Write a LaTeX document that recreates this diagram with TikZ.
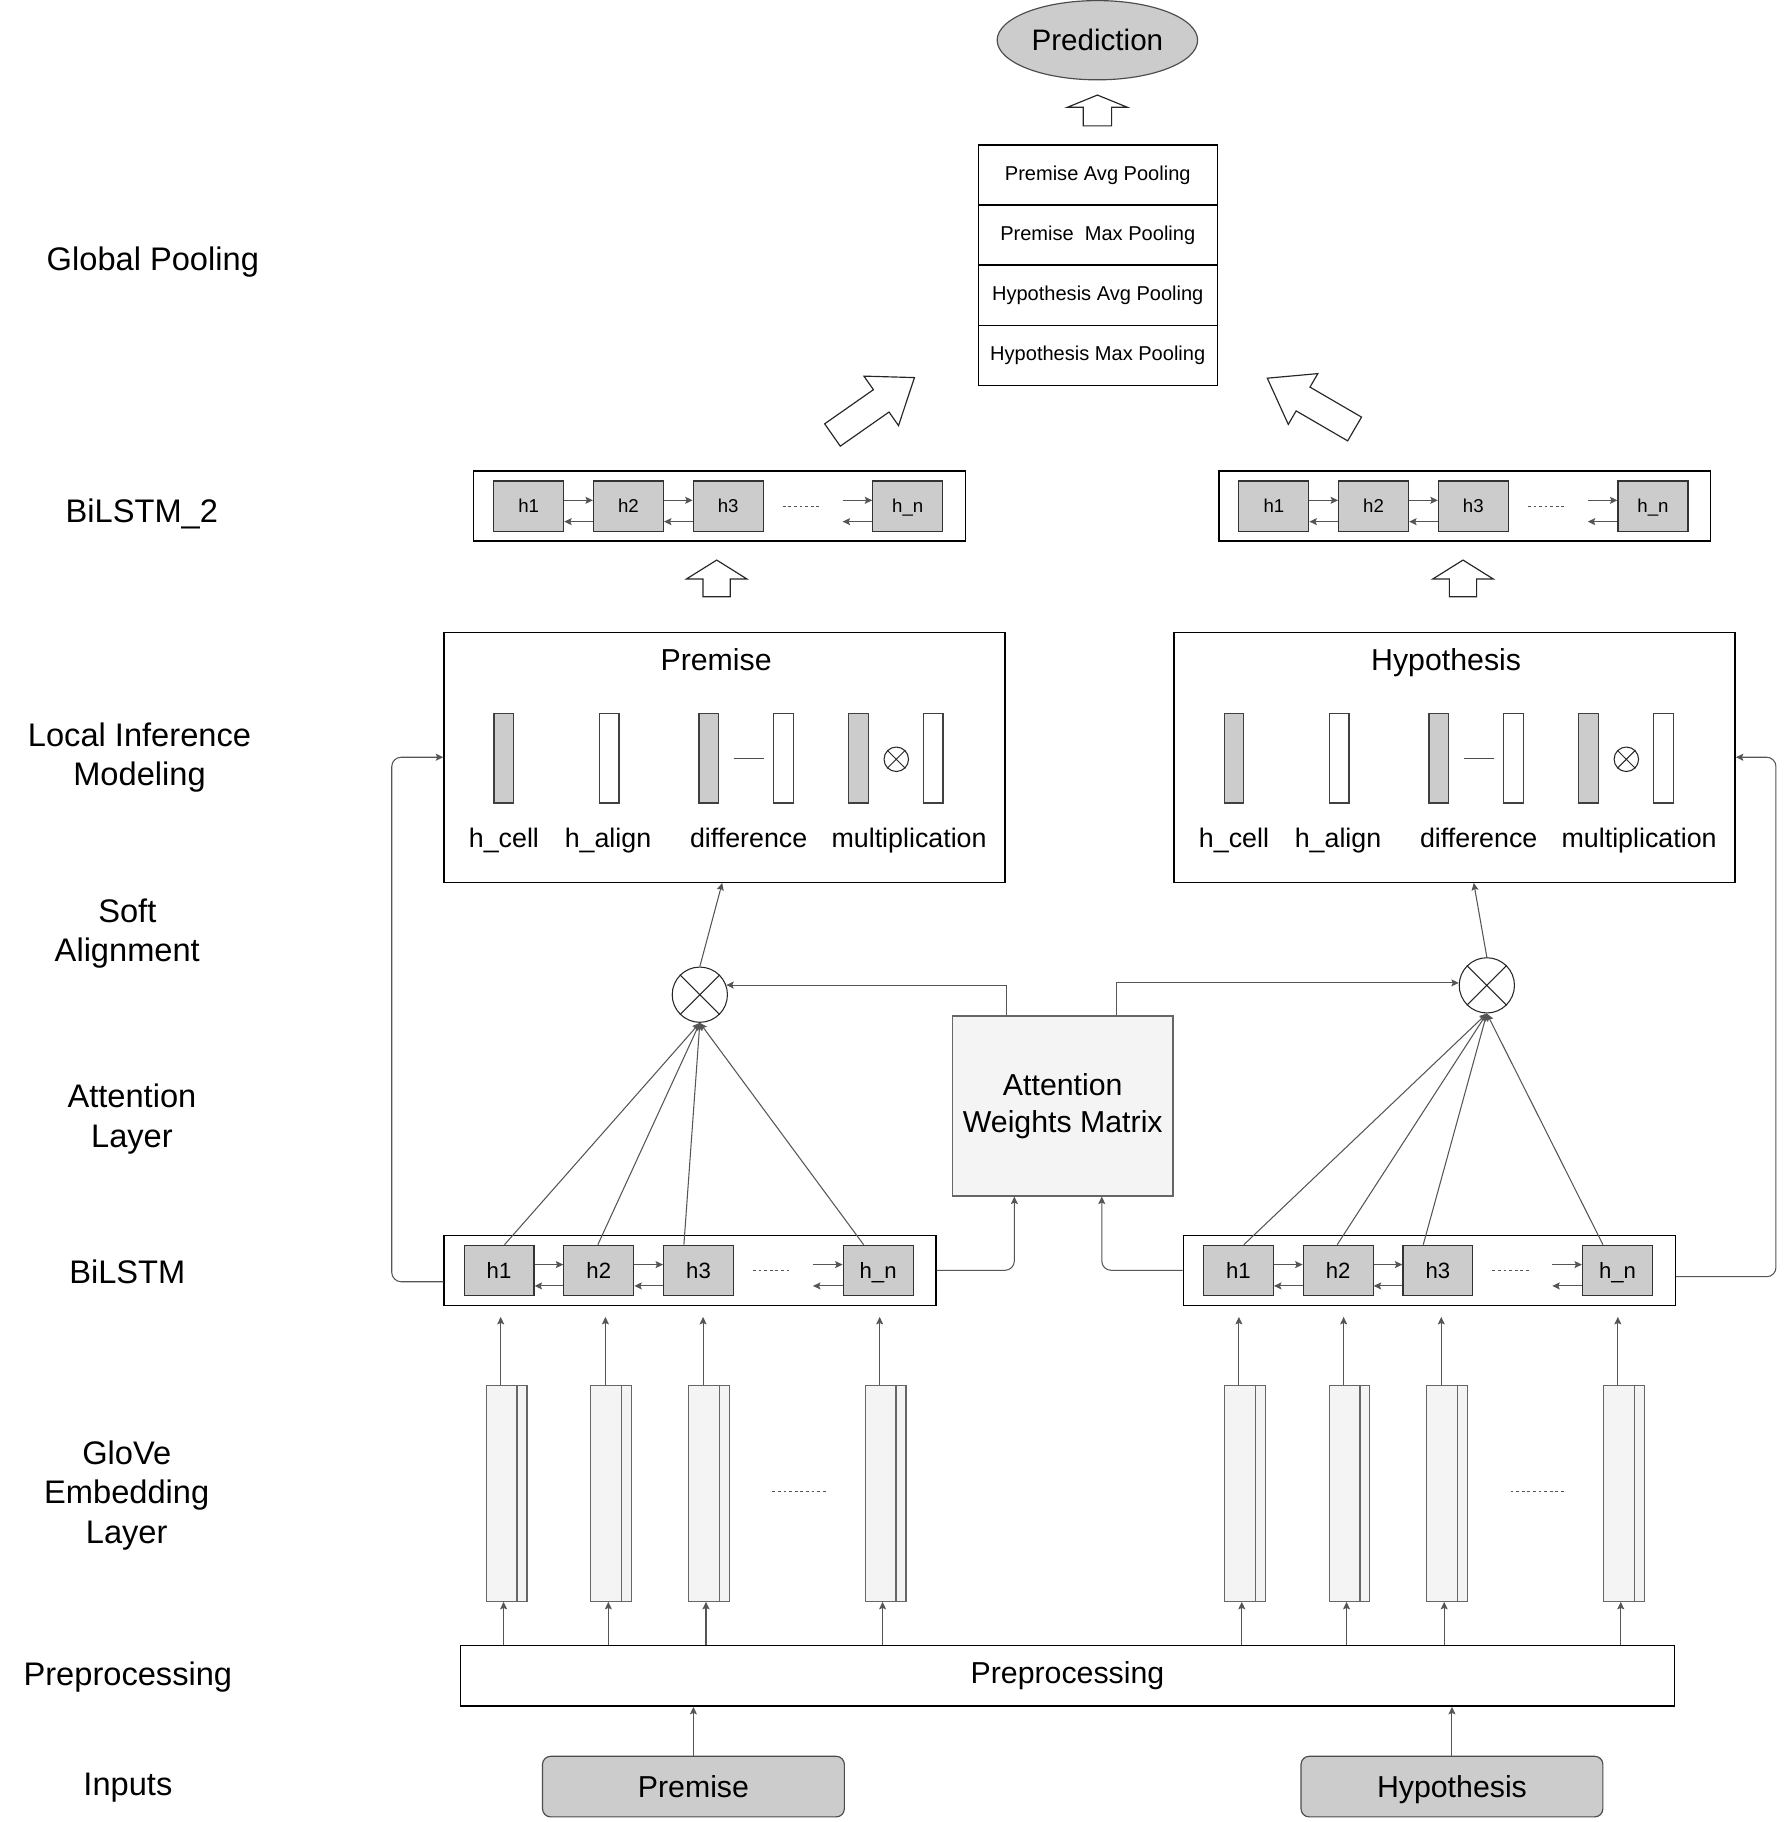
\documentclass[tikz,border=0pt]{standalone}
\usepackage{fontspec}
\setmainfont{Liberation Sans}
\usetikzlibrary{arrows.meta,calc,shapes.geometric}
\definecolor{cellgray}{HTML}{CCCCCC}
\definecolor{lightfill}{HTML}{F4F4F4}
\definecolor{linegray}{HTML}{555555}
\definecolor{boxgray}{HTML}{666666}
\newcommand\fLbl{\fontsize{14}{17}\selectfont}
\newcommand\fBig{\fontsize{13}{16}\selectfont}
\newcommand\fPred{\fontsize{12.7}{15}\selectfont}
\newcommand\fMid{\fontsize{11.5}{14}\selectfont}
\newcommand\fCellA{\fontsize{9.5}{11}\selectfont}
\newcommand\fCellB{\fontsize{8}{10}\selectfont}
\newcommand\fPool{\fontsize{8.6}{10}\selectfont}
\tikzset{
  sidelbl/.style={font=\fLbl, align=center, inner sep=0},
  conn/.style={draw=linegray, line width=0.45pt},
  arr/.style={conn, -{Stealth[length=3.2pt,width=3pt,inset=0.6pt]}},
  dotsty/.style={draw=linegray, line width=0.45pt, dash pattern=on 1.2pt off 1.2pt},
  cellA/.style={draw=black!80, fill=cellgray, line width=0.5pt, minimum width=30pt, minimum height=21.5pt, inner sep=0, font=\fCellA, text height=6.9pt, text depth=0pt},
  cellB/.style={draw=black!80, fill=cellgray, line width=0.5pt, minimum width=30pt, minimum height=21.5pt, inner sep=0, font=\fCellB, text height=5.8pt, text depth=0pt},
  outerbox/.style={draw=black, line width=0.6pt, minimum width=211pt, minimum height=30pt, inner sep=0},
  vbar/.style={draw=black!75, line width=0.5pt, minimum width=8.5pt, minimum height=38.5pt, inner sep=0},
  glove/.style={draw=boxgray, fill=lightfill, line width=0.5pt, minimum width=17.5pt, minimum height=92.65pt, inner sep=0},
  inbox/.style={draw=black!70, fill=cellgray, line width=0.5pt, rounded corners=3.5pt, minimum width=129.5pt, minimum height=26pt, inner sep=0, font=\fBig, text height=9.3pt, text depth=0pt},
  poolrow/.style={draw=black, line width=0.5pt, minimum width=102.5pt, minimum height=25.75pt, inner sep=0, font=\fPool},
  otimes/.style={circle, draw=black!85, line width=0.45pt, inner sep=0},
  block/.style={draw=black!85, fill=white, line width=0.5pt, line join=miter},
  lbltext/.style={font=\fMid, anchor=base, inner sep=0}
}
% block arrow: tail-mid, angle, length, head length, head half width, shaft half width
\newcommand\blockarrow[6]{\begin{scope}[shift={#1},rotate=#2]
  \draw[block] (0,-#6) -- ({#3-#4},-#6) -- ({#3-#4},-#5) -- (#3,0) -- ({#3-#4},#5) -- ({#3-#4},#6) -- (0,#6) -- cycle;
\end{scope}}
% BiLSTM row: prefix, left x, centre y, cell style
\newcommand\bilstm[4]{%
  \node[outerbox] (#1o) at ({#2+211},#3) {};
  \node[#4] (#1a) at ({#2+46.8},#3) {h1};
  \node[#4] (#1b) at ({#2+132.6},#3) {h2};
  \node[#4] (#1c) at ({#2+218.4},#3) {h3};
  \node[#4] (#1n) at ({#2+372.9},#3) {h\_n};
  \foreach \p/\q in {a/b,b/c}{
    \draw[arr] ([yshift=2.45pt]#1\p.east) -- ([yshift=2.45pt]#1\q.west);
    \draw[arr] ([yshift=-6.7pt]#1\q.west) -- ([yshift=-6.7pt]#1\p.east);
  }
  \coordinate (#1f) at ($(#1n.west)+(-25.5,0)$);
  \draw[arr] ([yshift=2.45pt]#1f) -- ([yshift=2.45pt]#1n.west);
  \draw[arr] ([yshift=-6.7pt]#1n.west) -- ([yshift=-6.7pt]#1f);
  \coordinate (#1d1) at ($(#1n.west)+(-77,0)$);
  \coordinate (#1d2) at ($(#1n.west)+(-44,0)$);
  \draw[dotsty] (#1d1) -- (#1d2);
}
% local inference box: prefix, x shift, title
\newcommand\localbox[3]{%
  \node[draw=black, line width=0.6pt, minimum width=240.75pt, minimum height=107.25pt, inner sep=0] (#1box) at ({623.25+#2},649.75) {};
  \node[font=\fBig, anchor=base, inner sep=0] (#1title) at ({616+#2},575) {#3};
  \node[vbar, fill=cellgray] (#1b1) at ({433.5+#2},650.5) {};
  \node[vbar, fill=white] (#1b2) at ({523.9+#2},650.5) {};
  \node[vbar, fill=cellgray] (#1b3) at ({609.8+#2},650.5) {};
  \node[vbar, fill=white] (#1b4) at ({674+#2},650.5) {};
  \node[vbar, fill=cellgray] (#1b5) at ({738.5+#2},650.5) {};
  \node[vbar, fill=white] (#1b6) at ({802.7+#2},650.5) {};
  \draw[draw=black!70, line width=0.4pt] ({631+#2},651) -- ({657+#2},651);
  \node[otimes, minimum size=10.5pt] (#1x) at ({771+#2},651.5) {};
  \draw[draw=black!85, line width=0.4pt] (#1x.45) -- (#1x.225) (#1x.135) -- (#1x.315);
  \node[lbltext] (#1l1) at ({433.5+#2},727.5) {h\_cell};
  \node[lbltext] (#1l2) at ({523+#2},727.5) {h\_align};
  \node[lbltext] (#1l3) at ({644+#2},727.5) {difference};
  \node[lbltext] (#1l4) at ({782+#2},727.5) {multiplication};
}
% glove bar: name, left x
\newcommand\glovebar[2]{%
  \node[glove] (#1) at ({#2+17.55},1281.35) {};
  \draw[draw=boxgray, line width=0.5pt] ($(#1.north east)+(-9,0)$) -- ($(#1.south east)+(-9,0)$);
  \coordinate (#1T) at ($(#1.north west)+(13,0)$);
  \coordinate (#1B) at ($(#1.south west)+(15.5,0)$);
  \draw[arr] (#1T) -- (#1T |- embtop);
  \draw[arr] (#1B |- pre.north) -- (#1B);
}
\begin{document}
\begin{tikzpicture}[x=0.49875pt,y=-0.5pt]
\path[use as bounding box, fill=white] (0,0) rectangle (1533.83,1563.4);

% side labels
\node[sidelbl] (lGP) at (131.5,225) {Global Pooling};
\node[sidelbl] (lB2) at (122,441) {BiLSTM\_2};
\node[sidelbl] (lLIM) at (120,650) {Local Inference\\Modeling};
\node[sidelbl] (lSA) at (109.5,801) {Soft\\Alignment};
\node[sidelbl] (lAL) at (113.5,960) {Attention\\Layer};
\node[sidelbl] (lBL) at (109.5,1091) {BiLSTM};
\node[sidelbl] (lGE) at (109,1283) {GloVe\\Embedding\\Layer};
\node[sidelbl] (lPP) at (110,1439) {Preprocessing};
\node[sidelbl] (lIn) at (110,1534) {Inputs};

% prediction and pooling
\node[ellipse, draw=black!70, fill=cellgray, line width=0.5pt, minimum width=86pt, minimum height=34pt, inner sep=0, font=\fPred] (pred) at (944,34.5) {Prediction};
\blockarrow{(944,108)}{90}{26.5}{10.5}{25.7}{12.2}
\node[poolrow] (pool1) at (944.3,150.2) {Premise Avg Pooling};
\node[poolrow] (pool2) at (944.3,201.7) {Premise\ \ Max Pooling};
\node[poolrow] (pool3) at (944.3,253.2) {Hypothesis Avg Pooling};
\node[poolrow] (pool4) at (944.3,304.7) {Hypothesis Max Pooling};

\blockarrow{(716.1,373.25)}{35}{86.1}{34.9}{25.9}{11.7}
\blockarrow{(1165.25,368.1)}{149.8}{86.9}{35.6}{25.2}{11.8}

% BiLSTM_2
\bilstm{tL}{408}{434.2}{cellB}
\bilstm{tR}{1049}{434.2}{cellB}

\blockarrow{(616.5,512)}{90}{31.5}{16.3}{26}{11.7}
\blockarrow{(1258.5,512)}{90}{31.5}{16.3}{26}{11.7}

% local inference
\localbox{P}{0}{Premise}
\localbox{H}{628}{Hypothesis}

% soft alignment
\node[otimes, minimum size=23.7pt] (saL) at (602,853.5) {};
\draw[draw=black!85, line width=0.45pt] (saL.45) -- (saL.225) (saL.135) -- (saL.315);
\node[otimes, minimum size=23.7pt] (saR) at (1279,845.5) {};
\draw[draw=black!85, line width=0.45pt] (saR.45) -- (saR.225) (saR.135) -- (saR.315);
\draw[arr] (saL.north) -- ($(Pbox.south)+(-2,0)$);
\draw[arr] (saR.north) -- ($(Hbox.south)+(16.5,0)$);

% attention
\node[draw=boxgray, fill=lightfill, line width=0.5pt, minimum width=94.6pt, minimum height=77.25pt, inner sep=0, align=center, font=\fBig] (att) at (914.2,949) {Attention\\Weights Matrix};
\draw[arr] ($(att.north west)+(46.7,0)$) |- (saL.20);
\draw[arr] ($(att.north west)+(141.7,0)$) |- (saR.175);

% bottom BiLSTM
\bilstm{bL}{382.5}{1090}{cellA}
\bilstm{bR}{1018.5}{1090}{cellA}
\foreach \c/\dx in {a/4.7,b/-0.8,c/-12.6,n/-12.5}{
  \draw[arr] ($(bL\c.north)+(\dx,0)$) -- (saL.south);
  \draw[arr] ($(bR\c.north)+(\dx,0)$) -- (saR.south);
}
\draw[arr, rounded corners=4pt] (bLo.east) -| ($(att.south west)+(53.7,0)$);
\draw[arr, rounded corners=4pt] (bRo.west) -| ($(att.south west)+(128.9,0)$);
\draw[arr, rounded corners=4pt] ($(bLo.west)+(0,9.8)$) -| ($(Pbox.west)+(-44.3,0)$) -- (Pbox.west);
\draw[arr, rounded corners=4pt] ($(bRo.east)+(0,5.5)$) -| ($(Hbox.east)+(34.5,0)$) -- (Hbox.east);

% preprocessing and inputs
\node[draw=black, line width=0.6pt, minimum width=520.75pt, minimum height=26pt, inner sep=0, font=\fBig] (pre) at (918.25,1438) {Preprocessing};
\coordinate (embtop) at (0,1130);
\glovebar{gL1}{418.2}
\glovebar{gL2}{508.3}
\glovebar{gL3}{592.3}
\glovebar{gL4}{744.2}
\glovebar{gR1}{1053.2}
\glovebar{gR2}{1143.3}
\glovebar{gR3}{1227.3}
\glovebar{gR4}{1379.2}
\coordinate (gdL1) at (664.4,1279.4);
\coordinate (gdL2) at (712.2,1279.4);
\coordinate (gdR1) at (1299.4,1279.4);
\coordinate (gdR2) at (1347.2,1279.4);
\draw[dotsty] (gdL1) -- (gdL2);
\draw[dotsty] (gdR1) -- (gdR2);

\node[inbox] (inP) at (596.5,1533) {Premise};
\node[inbox] (inH) at (1249,1533) {Hypothesis};
\draw[arr] (inP.north) -- (inP.north |- pre.south);
\draw[arr] (inH.north) -- (inH.north |- pre.south);
\end{tikzpicture}
\end{document}
